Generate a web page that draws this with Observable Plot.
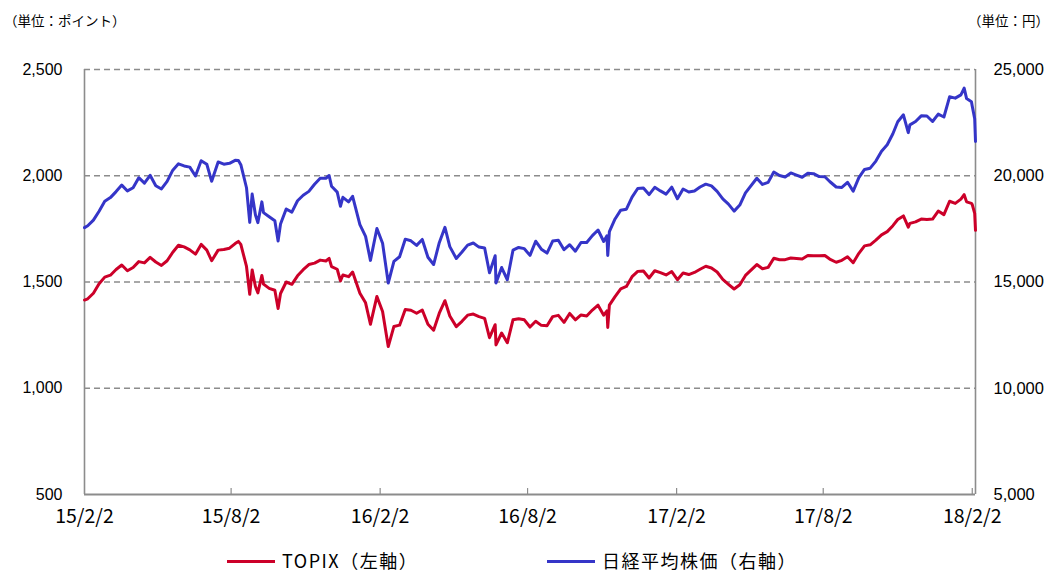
<!DOCTYPE html>
<html><head><meta charset="utf-8">
<script src="https://cdn.jsdelivr.net/npm/d3@7"></script>
<script src="https://cdn.jsdelivr.net/npm/@observablehq/plot@0.6"></script>
<style>
body{margin:0;background:#fff;font-family:"Noto Sans CJK JP","Liberation Sans",sans-serif;}
#wrap{position:relative;width:1048px;height:574px;overflow:hidden;}
.unit{position:absolute;top:10px;font-size:13.5px;color:#000;white-space:nowrap;}
#chart{position:absolute;left:0;top:40px;}
.leg{position:absolute;top:547px;font-size:18px;letter-spacing:1.5px;color:#000;white-space:nowrap;}
.sw{position:absolute;top:560px;width:48px;height:3px;}
</style></head>
<body><div id="wrap">
<div class="unit" style="left:4px">（単位：ポイント）</div>
<div class="unit" style="left:968px">（単位：円）</div>
<div id="chart"></div>
<div class="sw" style="left:227px;background:#cc0029"></div>
<div class="leg" style="left:282px">TOPIX（左軸）</div>
<div class="sw" style="left:547px;background:#3535c8"></div>
<div class="leg" style="left:602px">日経平均株価（右軸）</div>
</div>
<script>
const dates = ["2015-02-02","2015-02-06","2015-02-13","2015-02-20","2015-02-27","2015-03-06","2015-03-13","2015-03-20","2015-03-27","2015-04-03","2015-04-10","2015-04-17","2015-04-24","2015-05-01","2015-05-08","2015-05-15","2015-05-22","2015-05-29","2015-06-05","2015-06-12","2015-06-19","2015-06-26","2015-07-03","2015-07-09","2015-07-17","2015-07-24","2015-07-31","2015-08-07","2015-08-11","2015-08-14","2015-08-21","2015-08-25","2015-08-28","2015-09-01","2015-09-04","2015-09-09","2015-09-11","2015-09-18","2015-09-25","2015-09-29","2015-10-02","2015-10-09","2015-10-16","2015-10-23","2015-10-30","2015-11-06","2015-11-13","2015-11-20","2015-11-27","2015-12-01","2015-12-04","2015-12-11","2015-12-15","2015-12-18","2015-12-25","2015-12-30",
"2016-01-08","2016-01-15","2016-01-21","2016-01-29","2016-02-05","2016-02-12","2016-02-19","2016-02-26","2016-03-04","2016-03-11","2016-03-18","2016-03-25","2016-04-01","2016-04-08","2016-04-15","2016-04-22","2016-04-28","2016-05-06","2016-05-13","2016-05-20","2016-05-27","2016-06-03","2016-06-10","2016-06-16","2016-06-23","2016-06-24","2016-07-01","2016-07-08","2016-07-15","2016-07-22","2016-07-29","2016-08-05","2016-08-12","2016-08-19","2016-08-26","2016-09-02","2016-09-09","2016-09-16","2016-09-23","2016-09-30","2016-10-07","2016-10-14","2016-10-21","2016-10-28","2016-11-04","2016-11-08","2016-11-09","2016-11-11","2016-11-18","2016-11-25","2016-12-02","2016-12-09","2016-12-16","2016-12-23","2016-12-30",
"2017-01-06","2017-01-13","2017-01-20","2017-01-27","2017-02-03","2017-02-10","2017-02-17","2017-02-24","2017-03-03","2017-03-10","2017-03-17","2017-03-24","2017-03-31","2017-04-07","2017-04-14","2017-04-21","2017-04-28","2017-05-12","2017-05-19","2017-05-26","2017-06-02","2017-06-09","2017-06-16","2017-06-23","2017-06-30","2017-07-07","2017-07-14","2017-07-21","2017-07-28","2017-08-04","2017-08-10","2017-08-18","2017-08-25","2017-09-01","2017-09-08","2017-09-15","2017-09-22","2017-09-29","2017-10-06","2017-10-13","2017-10-20","2017-10-27","2017-11-02","2017-11-09","2017-11-15","2017-11-17","2017-11-24","2017-12-01","2017-12-08","2017-12-15","2017-12-22","2017-12-29",
"2018-01-05","2018-01-12","2018-01-19","2018-01-23","2018-01-26","2018-02-01","2018-02-02","2018-02-05","2018-02-06"];
const nikkei = [17558,17648,17913,18332,18798,18971,19254,19560,19286,19435,19908,19653,20020,19532,19379,19733,20264,20563,20461,20407,19990,20706,20540,19738,20650,20544,20585,20725,20720,20520,19436,17806,19136,18166,17792,18770,18264,18070,17880,16931,17725,18438,18291,18825,19083,19265,19597,19880,19883,20012,19504,19230,18565,18986,18770,19034,
17698,17147,16017,17518,16820,14953,15967,16188,17015,16939,16725,17002,16164,15822,16849,17572,16666,16106,16412,16736,16834,16642,16601,15434,16238,14952,15682,15106,16497,16627,16569,16254,16920,16546,16360,16925,16965,16519,16754,16450,16860,16856,17184,17446,16905,17171,16251,17374,17967,18381,18426,18996,19401,19427,19114,
19454,19287,19137,19467,18918,19379,19235,19283,19469,19605,19522,19262,18909,18665,18335,18620,19197,19883,19590,19687,20177,20013,19943,20132,20033,19929,20118,20099,19959,19952,19729,19470,19452,19691,19274,19909,20296,20356,20690,21155,21457,21977,22539,22868,22028,22396,22550,22819,22811,22553,22902,22764,
23714,23653,23808,24124,23631,23486,23274,22682,21610];
const topix = [1415,1421,1447,1492,1523,1532,1559,1580,1553,1568,1596,1590,1616,1594,1578,1600,1640,1673,1665,1651,1631,1677,1650,1600,1650,1653,1659,1681,1691,1677,1573,1442,1557,1479,1449,1531,1490,1470,1461,1375,1446,1500,1489,1529,1558,1582,1589,1603,1599,1611,1572,1560,1505,1533,1525,1547,
1447,1402,1301,1432,1361,1196,1291,1297,1371,1367,1353,1368,1301,1273,1353,1412,1340,1290,1315,1344,1349,1337,1329,1238,1299,1204,1260,1214,1322,1327,1322,1288,1315,1296,1294,1337,1343,1310,1352,1322,1345,1340,1368,1391,1344,1364,1286,1391,1431,1468,1479,1525,1550,1552,1519,
1553,1544,1533,1549,1511,1542,1535,1545,1560,1574,1566,1547,1512,1489,1467,1487,1531,1582,1562,1569,1612,1605,1605,1613,1611,1608,1625,1623,1624,1625,1608,1593,1602,1619,1591,1635,1670,1675,1697,1722,1737,1765,1794,1811,1758,1776,1783,1796,1794,1796,1834,1817,
1880,1870,1890,1911,1877,1870,1864,1823,1743];
const tickDates = ["2015-02-02","2015-08-02","2016-02-02","2016-08-02","2017-02-02","2017-08-02","2018-02-02"];
const leftTicks = [500,1000,1500,2000,2500];
const gridTicks = [1000,1500,2000,2500];
const xStart = "2015-02-02", xEnd = "2018-02-06";

const data = dates.map((d,i)=>({date:new Date(d), nikkei:nikkei[i], topix:topix[i]}));
const tds = tickDates.map(d=>new Date(d));
const fmtDate = d => `${String(d.getUTCFullYear()).slice(2)}/${d.getUTCMonth()+1}/${d.getUTCDate()}`;
const gray = "#8c8c8c";

const chart = Plot.plot({
  width:1048, height:500,
  marginTop:29, marginBottom:46, marginLeft:84, marginRight:73,
  style:{background:"#fff", color:"#000"},
  x:{type:"utc", domain:[new Date(xStart), new Date(xEnd)], label:null},
  y:{domain:[500,2500], label:null},
  marks:[
    Plot.ruleY(gridTicks, {stroke:gray, strokeWidth:1.6, strokeDasharray:"6,4"}),
    Plot.ruleX([new Date(xStart), new Date(xEnd)], {stroke:gray, strokeWidth:1.6}),
    Plot.ruleX(tds.slice(1), {y1:500, y2:528, stroke:gray, strokeWidth:1.2}),
    Plot.ruleY([500], {stroke:gray, strokeWidth:2}),
    Plot.lineY(data, {x:"date", y:d=>d.nikkei/10, stroke:"#3535c8", strokeWidth:3, strokeLinejoin:"round"}),
    Plot.lineY(data, {x:"date", y:"topix", stroke:"#cc0029", strokeWidth:3, strokeLinejoin:"round"}),
    Plot.axisY(leftTicks, {anchor:"left", label:null, tickSize:0, tickPadding:22, tickFormat:d3.format(","), fontSize:16, fontFamily:"Liberation Sans"}),
    Plot.axisY(leftTicks, {anchor:"right", label:null, tickSize:0, tickPadding:18, tickFormat:d=>d3.format(",")(d*10), fontSize:16.5, fontFamily:"Liberation Sans"}),
    Plot.axisX(tds, {anchor:"bottom", label:null, tickSize:0, tickPadding:15, tickFormat:fmtDate, fontSize:19.5, fontFamily:"Noto Sans CJK JP"})
  ]
});
document.getElementById("chart").appendChild(chart);
</script>
</body></html>
